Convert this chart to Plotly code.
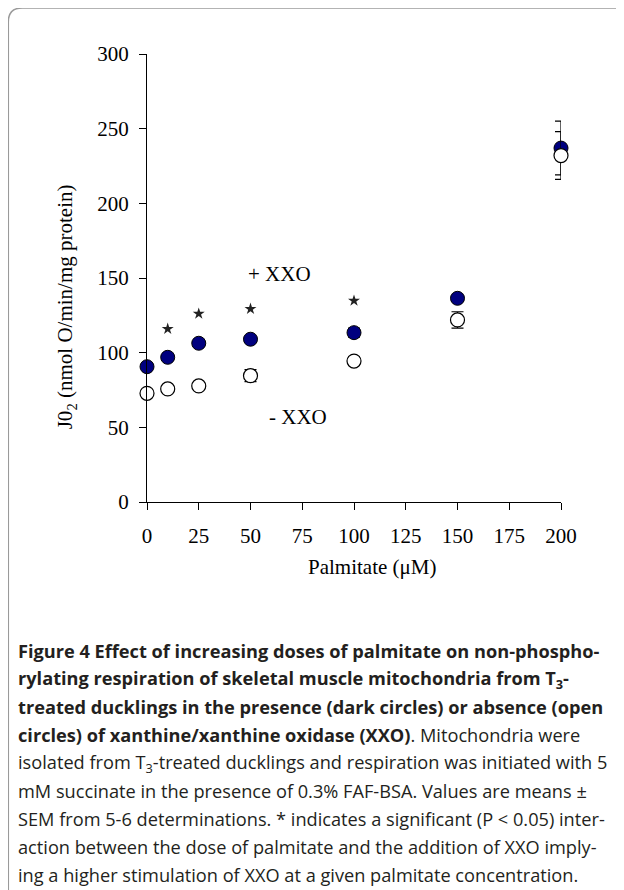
import plotly.graph_objects as go

# ---- data ----
palmitate = [0, 10, 25, 50, 100, 150, 200]
with_xxo = [90.6, 96.9, 106.3, 109.0, 113.4, 136.4, 237.0]
with_xxo_sem = [2.0, 2.0, 2.0, 2.0, 3.0, 2.0, 18.0]
without_xxo = [72.8, 75.7, 77.7, 84.6, 94.4, 121.9, 232.0]
without_xxo_sem = [1.0, 2.0, 2.0, 4.0, 3.0, 5.5, 16.0]
star_x = [10, 25, 50, 100]
star_y = [115.9, 126.1, 129.3, 134.8]
x_ticks = [0, 25, 50, 75, 100, 125, 150, 175, 200]
y_ticks = [0, 50, 100, 150, 200, 250, 300]

# page offset of 8px (body margin): figure drawn from (8,8)
OFF = 8
W, H = 616, 882
PL, PR, PT, PB = 146.7, 560.7, 54, 502  # plot area in page pixels
L, T = PL - OFF, PT - OFF
R = W - (PR - OFF)
B = H - (PB - OFF)


def px(x):
    return (x - PL) / (PR - PL)


def py(y):
    return (PB - y) / (PB - PT)


serif = "Liberation Serif"
fig = go.Figure()

fig.add_trace(go.Scatter(
    x=palmitate, y=with_xxo, mode="markers", name="+ XXO",
    error_y=dict(type="data", array=with_xxo_sem, color="black", thickness=1.2, width=6),
    marker=dict(size=14, color="#00007F", line=dict(color="black", width=1)),
    cliponaxis=False, showlegend=False))
fig.add_trace(go.Scatter(
    x=palmitate, y=without_xxo, mode="markers", name="- XXO",
    error_y=dict(type="data", array=without_xxo_sem, color="black", thickness=1.2, width=6),
    marker=dict(size=14, color="white", line=dict(color="black", width=1.2)),
    cliponaxis=False, showlegend=False))
fig.add_trace(go.Scatter(
    x=star_x, y=star_y, mode="markers", name="*",
    marker=dict(size=9, symbol="star", color="#222222", line=dict(width=0)),
    cliponaxis=False, showlegend=False))

axis_common = dict(showgrid=False, zeroline=False, showline=True, linecolor="black",
                   linewidth=1.3, ticks="outside", ticklen=7, tickwidth=1.3, tickcolor="black",
                   tickfont=dict(family=serif, size=21, color="black"))
fig.update_xaxes(range=[0, 200], tickvals=x_ticks, ticktext=[str(v) for v in x_ticks],
                 ticklabelstandoff=8, **axis_common)
fig.update_yaxes(range=[0, 300], tickvals=y_ticks, ticktext=[str(v) for v in y_ticks],
                 ticklabelstandoff=6, **axis_common)

ann = []
ann.append(dict(x=63.9, y=153, xref="x", yref="y", text="+ XXO", showarrow=False,
                xanchor="center", yanchor="middle",
                font=dict(family=serif, size=21, color="black")))
ann.append(dict(x=72.9, y=57, xref="x", yref="y", text="- XXO", showarrow=False,
                xanchor="center", yanchor="middle",
                font=dict(family=serif, size=21, color="black")))
ann.append(dict(x=px(372), y=py(567), xref="paper", yref="paper", text="Palmitate (μM)",
                xanchor="center", yanchor="middle",
                showarrow=False, font=dict(family=serif, size=21, color="black")))
ann.append(dict(x=px(66), y=py(307), xref="paper", yref="paper", textangle=-90,
                xanchor="center", yanchor="middle",
                text="J0<sub>2</sub> (nmol O/min/mg protein)",
                showarrow=False, font=dict(family=serif, size=21, color="black")))

caption = [
    "<b>Figure 4 Effect of increasing doses of palmitate on non-phospho-</b>",
    "<b>rylating respiration of skeletal muscle mitochondria from T<sub>3</sub>-</b>",
    "<b>treated ducklings in the presence (dark circles) or absence (open</b>",
    "<b>circles) of xanthine/xanthine oxidase (XXO)</b>. Mitochondria were",
    "isolated from T<sub>3</sub>-treated ducklings and respiration was initiated with 5",
    "mM succinate in the presence of 0.3% FAF-BSA. Values are means ±",
    "SEM from 5-6 determinations. * indicates a significant (P &lt; 0.05) inter-",
    "action between the dose of palmitate and the addition of XXO imply-",
    "ing a higher stimulation of XXO at a given palmitate concentration.",
]
for i, line in enumerate(caption):
    ann.append(dict(x=px(16), y=py(651 + 28 * i), xref="paper", yref="paper",
                    xanchor="left", yanchor="middle", text=line, showarrow=False,
                    font=dict(family="Open Sans", size=18.2, color="#231f20")))

r = 14
x0, yt = 8, 8
path = (f"M {px(x0)},{py(900)} L {px(x0)},{py(yt + r)} "
        f"Q {px(x0)},{py(yt)} {px(x0 + r)},{py(yt)} L {px(640)},{py(yt)}")

fig.update_layout(
    width=W, height=H, margin=dict(l=L, r=R, t=T, b=B, pad=0),
    plot_bgcolor="white", paper_bgcolor="white",
    annotations=ann,
    shapes=[dict(type="path", xref="paper", yref="paper", path=path,
                 line=dict(color="#9a9a9a", width=1.5))],
)

fig.write_html("out.html")
